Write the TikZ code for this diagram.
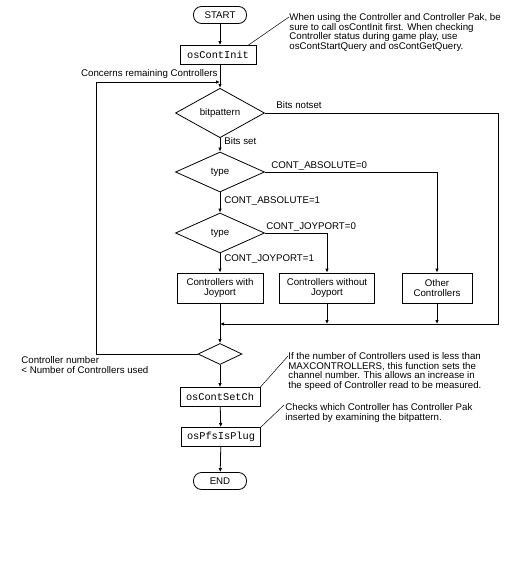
\documentclass[tikz,border=0pt]{standalone}
\usepackage{fontspec}
\setmainfont{Liberation Sans}
\newfontfamily\funcfont{Liberation Mono}
\usetikzlibrary{shapes.geometric,arrows.meta}

\begin{document}
\begin{tikzpicture}[x=1pt, y=-1pt, line width=0.8pt,
    every node/.style={font=\fontsize{9.7}{9.7}\selectfont},
    term/.style={draw, rounded corners=8pt, minimum width=53pt, minimum height=17pt, inner sep=0pt},
    func/.style={draw, font=\funcfont\fontsize{10.3}{11}\selectfont, inner sep=1pt, minimum height=19pt},
    decide/.style={draw, diamond, minimum width=89pt, minimum height=40pt, inner sep=0pt},
    ctrl/.style={draw, align=center, minimum height=30pt, inner sep=1pt},
    note/.style={anchor=north west, align=left, inner sep=0pt},
    lbl/.style={anchor=west, inner sep=0pt},
    flow/.style={-{Latex[length=4pt,width=3.5pt]}}
]
\useasboundingbox (0,0) rectangle (528,564);

% Nodes
\node[term] (START) at (220,15) {START};
\node[func, minimum width=76pt] (INIT) at (218,55) {osContInit};
\node[decide] (BITS) at (220,113) {bitpattern};
\node[decide] (TYPE1) at (220,172) {type};
\node[decide] (TYPE2) at (220,233) {type};
\node[ctrl, minimum width=86pt] (JOY) at (220,288) {Controllers with\\Joyport};
\node[ctrl, minimum width=95pt] (NOJOY) at (327,288) {Controllers without\\Joyport};
\node[ctrl, minimum width=70pt] (OTHER) at (437,288) {Other\\Controllers};
\node[draw, diamond, minimum width=44pt, minimum height=21pt, inner sep=0pt] (MERGE) at (220,354) {};
\node[func, minimum width=80pt] (SETCH) at (220,397) {osContSetCh};
\node[func, minimum width=79pt] (PLUG) at (221,437) {osPfsIsPlug};
\node[term] (END) at (220,481) {END};

\coordinate (LOOPL) at (96,82);
\coordinate (LOOP) at (220,82);
\coordinate (RETR) at (498,324);
\coordinate (RET) at (220,324);

% Labels
\node[anchor=east, inner sep=0pt] (CONCERN) at (218,74) {Concerns remaining Controllers};
\node[lbl] (NOTSET) at (276,105) {Bits notset};
\node[lbl] (SET) at (224,141) {Bits set};
\node[lbl] (ABS0) at (271,166) {CONT\_ABSOLUTE=0};
\node[lbl] (ABS1) at (224,201) {CONT\_ABSOLUTE=1};
\node[lbl] (JOY0) at (266,227) {CONT\_JOYPORT=0};
\node[lbl] (JOY1) at (224,259) {CONT\_JOYPORT=1};
\node[note] (COUNT) at (21,356) {Controller number\\< Number of Controllers used};

% Notes
\node[note] (NOTE1) at (289,13) {When using the Controller and Controller Pak, be\\sure to call osContInit first. When checking\\Controller status during game play, use\\osContStartQuery and osContGetQuery.};
\node[note] (NOTE2) at (288,352) {If the number of Controllers used is less than\\MAXCONTROLLERS, this function sets the\\channel number. This allows an increase in\\the speed of Controller read to be measured.};
\node[note] (NOTE3) at (285,403) {Checks which Controller has Controller Pak\\inserted by examining the bitpattern.};

% Connections
\draw[flow] (START) -- (START |- INIT.north);
\draw[flow] (START |- INIT.south) -- (BITS.north);
\draw[flow] (BITS) -- (TYPE1);
\draw[flow] (TYPE1) -- (TYPE2);
\draw[flow] (TYPE2) -- (JOY);
\draw[flow] (TYPE1.east) -| (OTHER.north);
\draw[flow] (TYPE2.east) -| (NOJOY.north);
\draw[flow] (NOJOY.south) -- (NOJOY |- RET);
\draw[flow] (OTHER.south) -- (OTHER |- RET);
\draw[flow] (BITS.east) -| (RETR) -- (RET);
\draw[flow] (JOY) -- (MERGE);
\draw[flow] (MERGE.west) -| (LOOPL) -- (LOOP);
\draw[flow] (MERGE) -- (SETCH);
\draw[flow] (SETCH) -- (PLUG);
\draw[flow] (PLUG) -- (END);

% Note lines
\draw[line width=0.5pt] ([xshift=-8pt]INIT.north east) -- ([yshift=-4pt]NOTE1.north west);
\draw[line width=0.5pt] (SETCH.north east) -- ([yshift=-4pt]NOTE2.north west);
\draw[line width=0.5pt] (PLUG.north east) -- ([yshift=-2pt, xshift=-1pt]NOTE3.north west);
\end{tikzpicture}
\end{document}
